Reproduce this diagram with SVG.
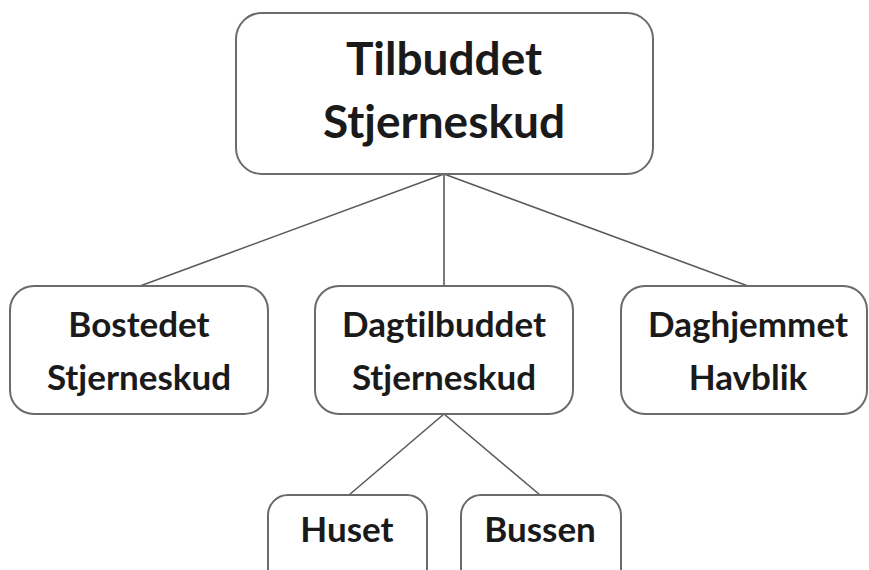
<svg xmlns="http://www.w3.org/2000/svg" width="869" height="570" viewBox="0 0 869 570">
<style>
.box{fill:#fff;stroke:#6b6b6b;stroke-width:2}
.t{font-family:Lato,"Open Sans","Liberation Sans",sans-serif;font-weight:bold;fill:#1a1a1a;text-anchor:middle;font-variant-ligatures:none}
.big{font-size:46px}
.mid{font-size:35px}
.edge{stroke:#5a5a5a;stroke-width:1.6;fill:none}
</style>
<rect width="869" height="570" fill="#fff"/>
<g id="connectors">
<line class="edge" x1="444" y1="174" x2="140" y2="286"/>
<line class="edge" x1="444" y1="174" x2="444" y2="286"/>
<line class="edge" x1="444" y1="174" x2="748" y2="286"/>
<line class="edge" x1="444" y1="414" x2="349" y2="495"/>
<line class="edge" x1="444" y1="414" x2="540" y2="495"/>
</g>
<g id="root">
<rect class="box" x="236" y="13" width="417" height="161" rx="26"/>
<text class="t big" x="444" y="75">Tilbuddet</text>
<text class="t big" x="444" y="138">Stjerneskud</text>
</g>
<g id="bostedet">
<rect class="box" x="10" y="286" width="258" height="128" rx="24"/>
<text class="t mid" x="139" y="337">Bostedet</text>
<text class="t mid" x="139" y="390">Stjerneskud</text>
</g>
<g id="dagtilbuddet">
<rect class="box" x="315" y="286" width="258" height="128" rx="24"/>
<text class="t mid" x="444" y="337">Dagtilbuddet</text>
<text class="t mid" x="444" y="390">Stjerneskud</text>
</g>
<g id="daghjemmet">
<rect class="box" x="621" y="286" width="246" height="128" rx="24"/>
<text class="t mid" x="748" y="337">Daghjemmet</text>
<text class="t mid" x="748" y="390">Havblik</text>
</g>
<g id="huset">
<rect class="box" x="268" y="495" width="159" height="100" rx="20"/>
<text class="t mid" x="347" y="542">Huset</text>
</g>
<g id="bussen">
<rect class="box" x="461" y="495" width="160" height="100" rx="20"/>
<text class="t mid" x="540" y="542">Bussen</text>
</g>
</svg>
